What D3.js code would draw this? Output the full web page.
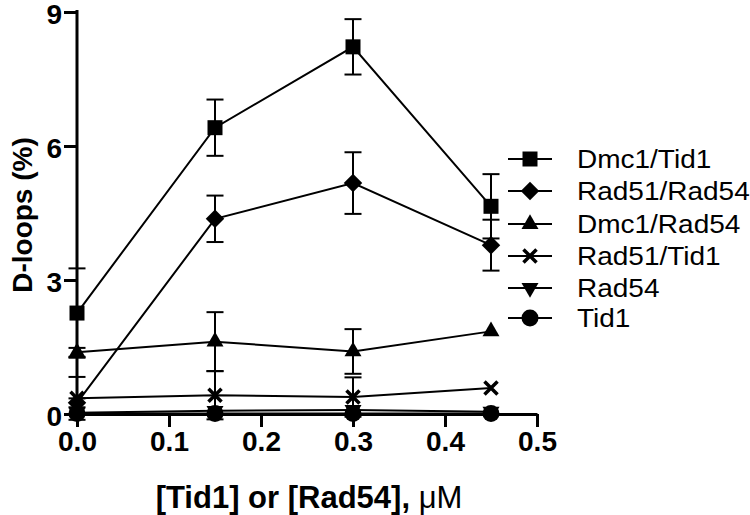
<!DOCTYPE html>
<html>
<head>
<meta charset="utf-8">
<title>D-loops</title>
<style>
  body { margin: 0; background: #fff; }
  text { font-family: "Liberation Sans", Arial, sans-serif; }
</style>
</head>
<body>
<svg id="chart" width="750" height="515"></svg>
<script src="https://cdnjs.cloudflare.com/ajax/libs/d3/7.8.5/d3.min.js"></script>
<script>
// data
var conc = [0, 0.15, 0.3, 0.45];
var seriesNames = ["Dmc1/Tid1", "Rad51/Rad54", "Dmc1/Rad54", "Rad51/Tid1", "Rad54", "Tid1"];
var dmc1Tid1 = [2.26, 6.41, 8.22, 4.65];
var dmc1Tid1Err = [1.0, 0.63, 0.62, 0.72];
var rad51Rad54 = [0.25, 4.37, 5.17, 3.78];
var rad51Rad54Err = [0.1, 0.52, 0.69, 0.57];
var dmc1Rad54 = [1.38, 1.62, 1.4, 1.85];
var dmc1Rad54Err = [0.1, 0.66, 0.5, 0];
var rad51Tid1 = [0.35, 0.42, 0.38, 0.58];
var rad51Tid1Err = [0.48, 0.54, 0.44, 0];
var rad54 = [0.03, 0.07, 0.09, 0.05];
var rad54Err = [0, 0, 0, 0];
var tid1 = [0.01, 0.01, 0.01, 0.01];
var tid1Err = [0, 0, 0, 0];
var xTicks = [0, 0.1, 0.2, 0.3, 0.4, 0.5];
var yTicks = [0, 3, 6, 9];

var svg = d3.select('#chart');
var x = d3.scaleLinear().domain([0, 0.5]).range([77, 537]);
var y = d3.scaleLinear().domain([0, 9]).range([414, 12]);

// marker shapes
var xMark = { draw: function (ctx, size) {
  var r = Math.sqrt(size) / 2;
  ctx.moveTo(-r, -r); ctx.lineTo(r, r);
  ctx.moveTo(r, -r); ctx.lineTo(-r, r);
}};
var downTri = { draw: function (ctx, size) {
  var s = Math.sqrt(size * 4 / Math.sqrt(3)), h = s * Math.sqrt(3) / 2;
  ctx.moveTo(-s / 2, -h / 3); ctx.lineTo(s / 2, -h / 3); ctx.lineTo(0, 2 * h / 3); ctx.closePath();
}};
var markers = [
  { type: d3.symbolSquare, size: 225, rot: 0 },
  { type: d3.symbolSquare, size: 170, rot: 45 },
  { type: d3.symbolTriangle, size: 125, rot: 0 },
  { type: xMark, size: 170, rot: 0, stroke: true },
  { type: downTri, size: 125, rot: 0 },
  { type: d3.symbolCircle, size: 227, rot: 0 }
];

var series = [
  { vals: dmc1Tid1, err: dmc1Tid1Err },
  { vals: rad51Rad54, err: rad51Rad54Err },
  { vals: dmc1Rad54, err: dmc1Rad54Err },
  { vals: rad51Tid1, err: rad51Tid1Err },
  { vals: rad54, err: rad54Err },
  { vals: tid1, err: tid1Err }
];

// axes
var yAxis = svg.append('g').attr('transform', 'translate(77,0)')
  .call(d3.axisLeft(y).tickValues(yTicks).tickFormat(d3.format('d')).tickSize(13).tickSizeOuter(0).tickPadding(2));
var xAxis = svg.append('g').attr('transform', 'translate(0,414)')
  .call(d3.axisBottom(x).tickValues(xTicks).tickFormat(d3.format('.1f')).tickSize(13).tickSizeOuter(0).tickPadding(4));
yAxis.select('.domain').attr('d', 'M0,10V414');
[yAxis, xAxis].forEach(function (a) {
  a.selectAll('path, line').attr('stroke', '#000').attr('stroke-width', 3);
  a.selectAll('text').attr('fill', '#000').style('font-size', '28px').style('font-weight', 'bold')
    .style('font-family', '"Liberation Sans", Arial, sans-serif');
});
yAxis.selectAll('text').attr('dy', '0.42em');

svg.append('text')
  .attr('transform', 'translate(32,215) rotate(-90)')
  .attr('text-anchor', 'middle')
  .style('font-size', '28px').style('font-weight', 'bold')
  .text('D-loops (%)');

var xl = svg.append('text')
  .attr('x', 309).attr('y', 508)
  .attr('text-anchor', 'middle')
  .style('font-size', '31px').style('font-weight', 'bold');
xl.append('tspan').text('[Tid1] or [Rad54], ');
xl.append('tspan').style('font-weight', 'normal').text('\u03bcM');

// data
var line = d3.line().x(function (d, i) { return x(conc[i]); }).y(function (d) { return y(d); });
var plot = svg.append('g');

series.forEach(function (s, k) {
  plot.append('path').datum(s.vals).attr('d', line)
    .attr('fill', 'none').attr('stroke', '#000').attr('stroke-width', 2);
});

series.forEach(function (s, k) {
  var g = plot.append('g');
  s.vals.forEach(function (v, i) {
    var e = s.err[i];
    if (!e) return;
    var cx = x(conc[i]);
    g.append('line').attr('x1', cx).attr('x2', cx).attr('y1', y(v - e)).attr('y2', y(v + e));
    [v - e, v + e].forEach(function (w) {
      g.append('line').attr('x1', cx - 8.5).attr('x2', cx + 8.5).attr('y1', y(w)).attr('y2', y(w));
    });
  });
  g.selectAll('line').attr('stroke', '#000').attr('stroke-width', 2);
});

function drawMarker(sel, m, px, py) {
  var p = sel.append('path')
    .attr('d', d3.symbol().type(m.type).size(m.size)())
    .attr('transform', 'translate(' + px + ',' + py + ') rotate(' + m.rot + ')');
  if (m.stroke) p.attr('fill', 'none').attr('stroke', '#000').attr('stroke-width', 3.5);
  else p.attr('fill', '#000');
}

series.forEach(function (s, k) {
  s.vals.forEach(function (v, i) { drawMarker(plot, markers[k], x(conc[i]), y(v)); });
});

// legend
var legY = [159, 191, 224, 256, 288, 318];
seriesNames.forEach(function (name, k) {
  var g = svg.append('g').attr('transform', 'translate(0,' + legY[k] + ')');
  g.append('line').attr('x1', 508).attr('x2', 552).attr('y1', 0).attr('y2', 0)
    .attr('stroke', '#000').attr('stroke-width', 2);
  drawMarker(g, markers[k], 530, 0);
  g.append('text').attr('x', 0).attr('y', 9)
    .attr('transform', 'translate(577,0) scale(1.12,1)')
    .style('font-size', '25px').text(name);
});
</script>
</body>
</html>
